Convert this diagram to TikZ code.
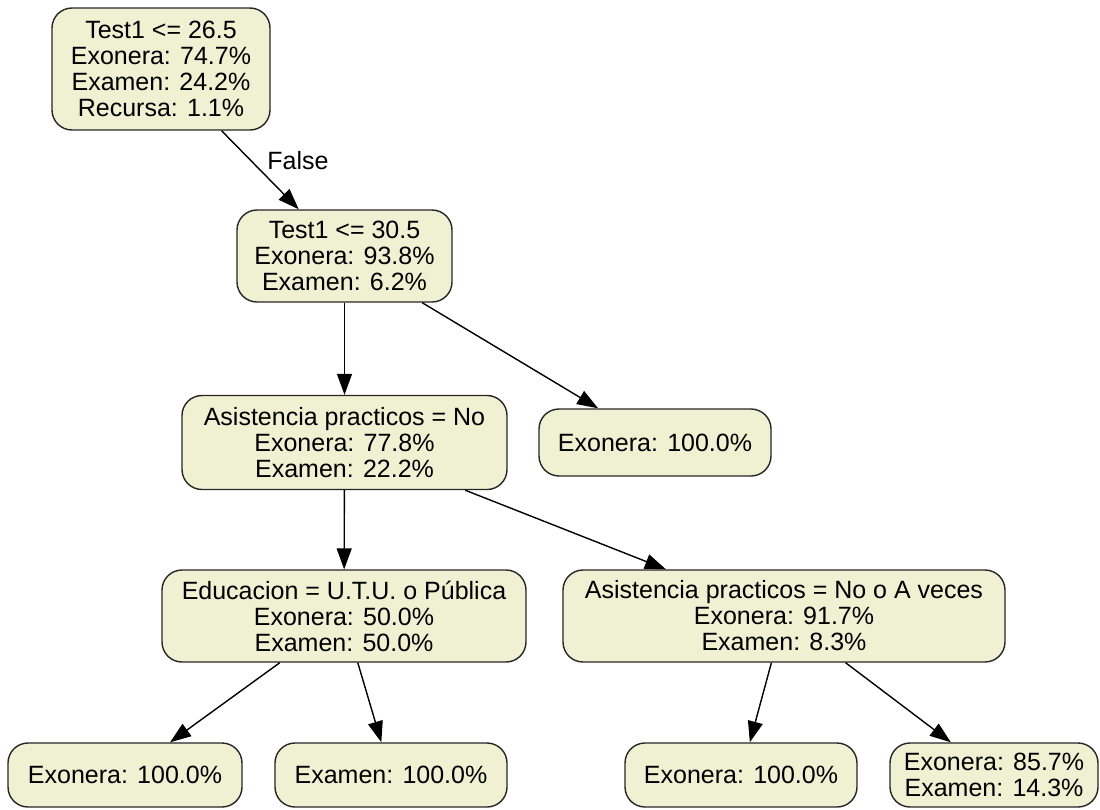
\documentclass[tikz,border=0pt]{standalone}
\usepackage{fontspec}
\setmainfont{Liberation Sans}
\usetikzlibrary{arrows.meta}
\definecolor{nodefill}{RGB}{240,240,210}
\begin{document}
\begin{tikzpicture}[x=1pt,y=-1pt,
  treenode/.style={draw=black!85, line width=1.4pt, fill=nodefill,
    rounded corners=20pt, align=center, inner sep=0pt,
    font=\fontsize{25}{26}\selectfont},
  edgelabel/.style={font=\fontsize{25}{26}\selectfont, inner sep=0pt},
  branch/.style={draw=black, line width=1.4pt,
    -{Triangle[length=21pt,width=15pt]}}
]
\useasboundingbox (0,0) rectangle (1100,809);

% internal split nodes
\node[treenode, minimum width=218pt, minimum height=122pt] (root) at (161,69)
  {Test1 <= 26.5\\Exonera: 74.7\%\\Examen: 24.2\%\\Recursa: 1.1\%};
\node[treenode, minimum width=215pt, minimum height=92pt] (t2) at (344.5,256)
  {Test1 <= 30.5\\Exonera: 93.8\%\\Examen: 6.2\%};
\node[treenode, minimum width=325pt, minimum height=94pt] (asis) at (344.5,442.5)
  {Asistencia practicos = No\\Exonera: 77.8\%\\Examen: 22.2\%};
\node[treenode, minimum width=232pt, minimum height=67pt] (leafA) at (655,442.5)
  {Exonera: 100.0\%};
\node[treenode, minimum width=364pt, minimum height=92pt] (educ) at (344,616)
  {Educacion = U.T.U. o Pública\\Exonera: 50.0\%\\Examen: 50.0\%};
\node[treenode, minimum width=442pt, minimum height=92pt] (asis2) at (784,616)
  {Asistencia practicos = No o A veces\\Exonera: 91.7\%\\Examen: 8.3\%};

% leaves
\node[treenode, minimum width=234pt, minimum height=64pt] (leafB) at (125,775)
  {Exonera: 100.0\%};
\node[treenode, minimum width=232pt, minimum height=64pt] (leafC) at (391,775)
  {Examen: 100.0\%};
\node[treenode, minimum width=232pt, minimum height=64pt] (leafD) at (741,775)
  {Exonera: 100.0\%};
\node[treenode, minimum width=208pt, minimum height=64pt] (leafE) at (994,775)
  {Exonera: 85.7\%\\Examen: 14.3\%};

% branches
\draw[branch] (root) -- (t2);
\node[edgelabel] (lblfalse) at (298,161) {False};
\draw[branch] (t2) -- (asis);
\draw[branch] (t2) -- (leafA);
\draw[branch] (asis) -- (educ);
\draw[branch] (asis) -- (asis2);
\draw[branch] (educ) -- (leafB);
\draw[branch] (educ) -- (leafC);
\draw[branch] (asis2) -- (leafD);
\draw[branch] (asis2) -- (leafE);
\end{tikzpicture}
\end{document}
